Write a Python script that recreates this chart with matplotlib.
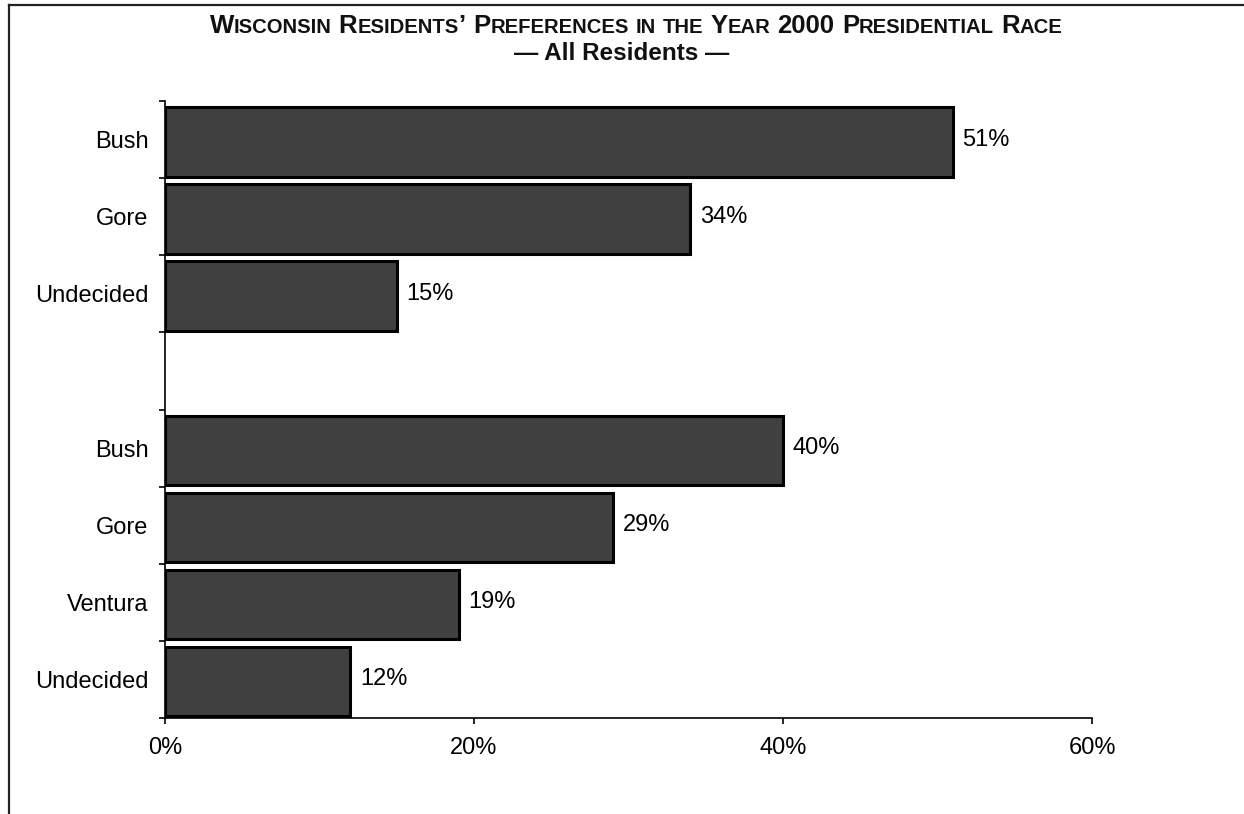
import matplotlib
matplotlib.use("Agg")
import matplotlib.pyplot as plt
from matplotlib.lines import Line2D
from matplotlib.offsetbox import TextArea, HPacker, AnnotationBbox

plt.rcParams['font.family'] = ['Liberation Sans', 'DejaVu Sans']

# Data
categories = ["Bush", "Gore", "Undecided", "", "Bush", "Gore", "Ventura", "Undecided"]
values = [51, 34, 15, None, 40, 29, 19, 12]
xticks = [0, 20, 40, 60]
xticklabels = ["0%", "20%", "40%", "60%"]
title_line1 = "Wisconsin Residents\u2019 Preferences in the Year 2000 Presidential Race"
title_line2 = "\u2014 All Residents \u2014"

W, H = 1244, 814
fig = plt.figure(figsize=(W / 100, H / 100), dpi=100)
ax = fig.add_axes([165 / W, 1 - 718 / H, (1092 - 165) / W, (718 - 101) / H])

n = len(categories)
for i, (c, v) in enumerate(zip(categories, values)):
    if v is None:
        continue
    y = i + 0.53
    ax.barh(y, v, height=0.9, color="#404040", edgecolor="black", linewidth=2.2)
    ax.annotate(f"{v}%", (v, i + 0.5), xytext=(6.8, 0), textcoords="offset points",
                va="center", ha="left", fontsize=17)

ax.set_xlim(0, 60)
ax.set_ylim(n, 0)
ax.set_xticks(xticks)
ax.set_xticklabels(xticklabels, fontsize=17)
ax.set_yticks(range(n + 1))
ax.set_yticklabels([])
ax.set_yticks([i + 0.5 for i in range(n)], minor=True)
ax.set_yticklabels(categories, minor=True, fontsize=17)
ax.tick_params(axis="y", which="minor", length=0, pad=12)
ax.tick_params(axis="y", which="major", length=4, width=1.2, direction="out")
ax.tick_params(axis="x", length=4, width=1.2, direction="out", pad=10)
for s in ["top", "right"]:
    ax.spines[s].set_visible(False)
for s in ["left", "bottom"]:
    ax.spines[s].set_linewidth(1.2)

# Small-caps title
def small_caps_box(text, big=18.5, small=14.6):
    parts = []
    def add(buf, kind):
        parts.append(TextArea(buf.upper() if kind == "s" else buf,
                              textprops=dict(fontsize=small if kind == "s" else big,
                                             fontweight="bold", color="#111111")))
    for word_i, word in enumerate(text.split(" ")):
        if word_i > 0:
            add(" ", "b")
        buf, cur = "", None
        for ch in word:
            kind = "s" if ch.islower() else "b"
            if cur is not None and kind != cur:
                add(buf, cur)
                buf = ""
            cur = kind
            buf += ch
        if buf:
            add(buf, cur)
    return HPacker(children=parts, align="baseline", pad=0, sep=0)

box1 = small_caps_box(title_line1)
ab = AnnotationBbox(box1, (636 / W, 1 - 26 / H), xycoords="figure fraction",
                    frameon=False, box_alignment=(0.5, 0.5))
fig.add_artist(ab)
fig.text(622 / W, 1 - 53 / H, title_line2, ha="center", va="center",
         fontsize=17.5, fontweight="bold", color="#111111")

# Partial frame
fig.add_artist(Line2D([9 / W, 9 / W], [0, 1 - 5 / H], transform=fig.transFigure,
                      color="#222222", linewidth=1.6))
fig.add_artist(Line2D([9 / W, 1], [1 - 5 / H, 1 - 5 / H], transform=fig.transFigure,
                      color="#222222", linewidth=1.6))

fig.savefig("out.png", dpi=100)
